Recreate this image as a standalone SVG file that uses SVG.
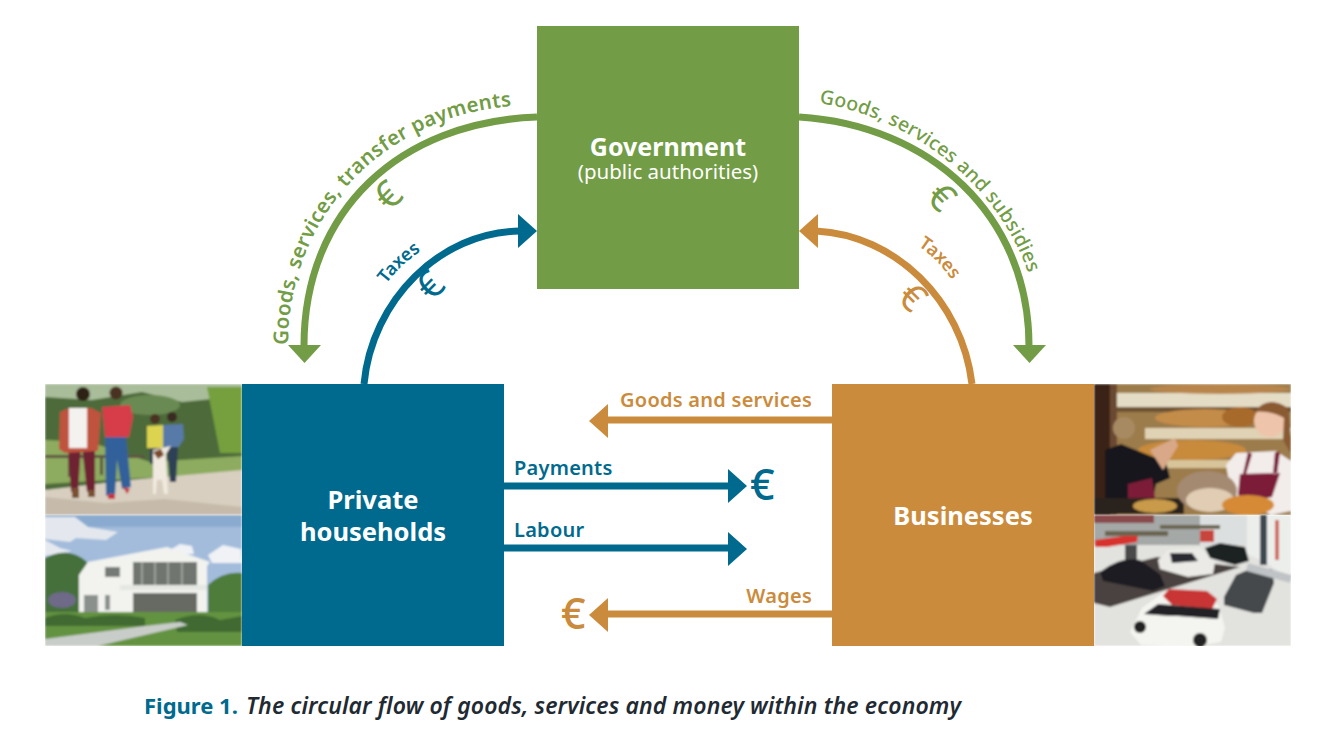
<svg xmlns="http://www.w3.org/2000/svg" width="1322" height="730" viewBox="0 0 1322 730">
<style>
text{font-family:"Noto Sans","Liberation Sans",sans-serif;font-weight:600}
.g{fill:#729c45}.b{fill:#006a8e}.o{fill:#cb8b3c}
.w{fill:#fff;font-weight:700;font-size:25.5px;text-anchor:middle}
.lb{font-size:20px;letter-spacing:.25px}
.arc{font-size:20.5px;letter-spacing:.3px}
.arc2{font-size:19.5px;letter-spacing:.2px;font-weight:500}
.eu{font-size:43px;font-weight:500}
.er{font-size:38px;font-weight:400;text-anchor:middle}
.ln{fill:none;stroke-width:7}
</style>
<defs>
<filter id="bl" x="-5%" y="-5%" width="110%" height="110%"><feGaussianBlur stdDeviation="1.3"/></filter>
<clipPath id="c1"><rect x="45" y="384" width="197" height="131"/></clipPath>
<clipPath id="c2"><rect x="45" y="515" width="197" height="131"/></clipPath>
<clipPath id="c3"><rect x="1094" y="384" width="197" height="131"/></clipPath>
<clipPath id="c4"><rect x="1094" y="515" width="197" height="131"/></clipPath>
<path id="p1" d="M288 345C288 215 385 115 514 106L560 104"/>
<path id="p2" d="M819 103C915 118 1005 190 1032 285L1040 330"/>
<path id="p3" d="M386 284C398 268 412 256 432 244"/>
<path id="p4" d="M918 246C934 256 948 272 962 296"/>
</defs>
<rect width="1322" height="730" fill="#fff"/>
<g id="photo-family" clip-path="url(#c1)"><g filter="url(#bl)">
<rect x="45" y="384" width="197" height="131" fill="#4d6a3a"/>
<path d="M45 384h197v12l-60 6-40-10-50 8-47-3z" fill="#a9bd9a"/>
<ellipse cx="150" cy="405" rx="30" ry="10" fill="#6a8a52"/>
<path d="M207 387h35v66h-22z" fill="#74a03e"/>
<path d="M45 440l45 2 60 20 92-6v20l-100 2-97 6z" fill="#8dac5e"/>
<path d="M45 455h100v3H45z" fill="#5f5444"/><path d="M68 455h3v22h-3zM100 455h3v20h-3z" fill="#5f5444"/>
<path d="M45 515V490L130 480 242 470V515Z" fill="#d8cfc0"/>
<path d="M45 497l60 6 60-4 77 8v8H45z" fill="#c6bbaa"/>
<path d="M68 447h13l-3 45h-7zM82 447h13l0 45h-8z" fill="#6e2130"/>
<path d="M60 412l9-4 22 0 10 5-3 38-33 2-6-4z" fill="#c0523c"/>
<path d="M69 408h18v40h-18z" fill="#f4f2ee"/>
<circle cx="83" cy="394" r="7" fill="#2f2118"/>
<path d="M72 488h7v10h-7zM88 490h7v7h-7z" fill="#7a5030"/>
<path d="M102 407l28-2 3 12-4 20h-24z" fill="#d63c48"/>
<circle cx="116" cy="393" r="6.500" fill="#4a3022"/>
<path d="M105 437h21l5 50-9 2-5-30-2 37h-9z" fill="#33609a"/>
<path d="M108 494h7v5h-7zM123 487l7 2-3 5z" fill="#c8323c"/>
<path d="M147 426l16-1v23h-16z" fill="#dcd351"/>
<circle cx="155" cy="419" r="5" fill="#4a3020"/>
<path d="M163 425l20-1 1 15-6 9h-15z" fill="#587aa8"/>
<circle cx="172" cy="417" r="5" fill="#3a2a20"/>
<path d="M150 448h10v16h-10zM167 447h11l-2 35h-6z" fill="#2e3f55"/>
<path d="M153 450l18-4-5 8 2 40h-4l-2-14-5 0-1 14h-3v-28z" fill="#efe9df"/>
<path d="M153 452l8-3 3 6-6 4z" fill="#7a4a2c"/>
</g></g>
<g id="photo-house" clip-path="url(#c2)"><g filter="url(#bl)">
<rect x="45" y="515" width="197" height="131" fill="#a3bcdb"/>
<rect x="45" y="515" width="197" height="12" fill="#8baacf"/>
<path d="M45 517h30l13 10 30 5-12 8-30-2-6 4-25-3z" fill="#e4e8ee"/>
<path d="M45 540l15 8 12 3-27 5z" fill="#e6eaf0"/>
<path d="M170 550l10-6 12 2 2 8-20 0zM208 555l15-10 18 4 1 14-30 0z" fill="#f0f2f5"/>
<path d="M45 558q24-12 42 4v50H45z" fill="#45703a"/>
<path d="M208 585q15-14 34-12v45h-34z" fill="#4e7c3a"/>
<path d="M79 575l9-13 79-15 43 15-3 4v51H79z" fill="#f2f3ef"/>
<rect x="133" y="562" width="64" height="23" fill="#6f7570"/><path d="M142 562v23M155 562v23M168 562v23M182 562v23" stroke="#aab0a8" stroke-width="1.500"/>
<rect x="120" y="585" width="87" height="5" fill="#e4e7e2"/>
<rect x="133" y="593" width="64" height="23" fill="#666a64"/>
<rect x="105" y="567" width="15" height="10" fill="#747a76"/>
<rect x="84" y="595" width="14" height="19" fill="#8a908c"/><rect x="105" y="595" width="5" height="15" fill="#8a908c"/>
<rect x="45" y="612" width="197" height="34" fill="#64933f"/>
<path d="M45 618q20-8 40 0 30-6 60 0v8H45zM175 620q25-10 45 0l22-4v16h-65z" fill="#3f6a30"/>
<ellipse cx="62" cy="600" rx="14" ry="8" fill="#6e6a88"/>
<path d="M45 646v-7l100-13 35-4 8 3-30 7-60 14z" fill="#c9cdc9"/>
</g></g>
<g id="photo-bakery" clip-path="url(#c3)"><g filter="url(#bl)">
<rect x="1094" y="384" width="197" height="131" fill="#9c7c4c"/>
<rect x="1094" y="384" width="16" height="131" fill="#3a2418"/><rect x="1110" y="384" width="7" height="131" fill="#6a4a30"/>
<rect x="1117" y="393" width="174" height="14" fill="#e4dcc4"/><rect x="1145" y="428" width="146" height="11" fill="#e0d2b4"/><rect x="1145" y="460" width="85" height="8" fill="#d8c49a"/>
<rect x="1117" y="407" width="174" height="5" fill="#6e5232"/>
<ellipse cx="1205" cy="418" rx="50" ry="9" fill="#c48c4a"/><ellipse cx="1240" cy="417" rx="18" ry="10" fill="#a86a2c"/>
<ellipse cx="1192" cy="450" rx="54" ry="10" fill="#c88a3a"/>
<ellipse cx="1220" cy="389" rx="70" ry="5" fill="#b8864e"/>
<path d="M1105 450l16-6 45 18 4 16-14 6-4 20-47 0z" fill="#17171a"/><path d="M1128 484l24-6 4 26h-28z" fill="#7c1d38"/>
<path d="M1150 450l25-12 3 8-15 24z" fill="#d8a888"/>
<circle cx="1124" cy="428" r="11" fill="#a88a62"/>
<path d="M1094 498h90v16h-90z" fill="#2a221c"/>
<ellipse cx="1155" cy="506" rx="22" ry="7" fill="#c89a48"/>
<path d="M1226 465l10-12 40-2 15 10v50l-20 4-40-22z" fill="#f2ecea"/><path d="M1240 474l40-1-8 24-20 4-14-6zM1248 452l-5 22h3l6-20zM1275 452l-2 22 4 0 3-22z" fill="#7c1d38"/>
<circle cx="1270" cy="421" r="16" fill="#eec4aa"/><path d="M1254 412q14-18 34-4l3 30v16l-8-14 1-22q-14-8-30-6z" fill="#8a5a32"/>
<ellipse cx="1207" cy="491" rx="30" ry="20" fill="#a58a72"/><ellipse cx="1210" cy="500" rx="24" ry="12" fill="#e0cdb4"/>
<ellipse cx="1248" cy="505" rx="26" ry="10" fill="#d68a34"/>
</g></g>
<g id="photo-cars" clip-path="url(#c4)"><g filter="url(#bl)">
<rect x="1094" y="515" width="197" height="131" fill="#e2e2de"/>
<rect x="1094" y="515" width="170" height="30" fill="#a4a8a6"/>
<path d="M1094 515h60v8h-60z" fill="#8a4a4c"/>
<path d="M1200 515h47v30l-47 0z" fill="#dcdfe0"/>
<path d="M1247 515h44v65l-26-18-18-8z" fill="#eceeec"/>
<rect x="1260" y="515" width="7" height="50" fill="#3d4a50"/>
<path d="M1275 520h4v40h-4z" fill="#d06a5c"/>
<path d="M1094 573l63-16 83 10-130 40-16-4z" fill="#4a4340"/>
<path d="M1095 540l43-6-1 8-30 5-12 0z" fill="#d8302e"/><path d="M1105 531h63v5h-63zM1160 525h60v4h-60z" fill="#6a6350"/>
<path d="M1125 545h12v18h-12z" fill="#4a4a48"/>
<rect x="1200" y="530" width="14" height="12" fill="#c8443c"/>
<path d="M1100 572q20-16 40-12l20 14 5 12-12 5-50-10z" fill="#1d1e20"/>
<path d="M1158 560l10-10 32-2 15 14-2 12-25 3-28-8z" fill="#ebeae6"/>
<path d="M1170 553h22l6 8-26 2z" fill="#2a2c30"/>
<path d="M1205 548l15-5 25 4 4 14-14 4-25-7z" fill="#1e2024"/>
<path d="M1224 597l12-22 14-6 22 0 2 14-12 30-8 0-30-8z" fill="#45484b"/>
<path d="M1130 632l12-24 22-16 40 0 15 14 6 22-4 14-30 5-50-2z" fill="#f4f4f0"/>
<path d="M1163 596l6-7 38 2 10 8-5 10-40-4z" fill="#c93535"/>
<path d="M1144 614l14-10 62 5-2 10-40-3-8 0z" fill="#202226"/>
<circle cx="1140" cy="627" r="6" fill="#222"/><circle cx="1200" cy="640" r="7" fill="#222"/>
<path d="M1247 567l44 12" stroke="#bfc3c6" stroke-width="8"/>
</g></g>
<g id="connectors">
<path class="ln" stroke="#729c45" d="M537 117C400 122 304 210 304 346"/>
<path class="g" d="M288 345h33l-16.500 18z"/>
<path class="ln" stroke="#006a8e" d="M364 384C372 300 440 232 520 231"/>
<path class="b" d="M518 214l19 17-19 17z"/>
<path class="ln" stroke="#729c45" d="M799 117C930 125 1029 215 1029 346"/>
<path class="g" d="M1013 345h33l-16.500 18z"/>
<path class="ln" stroke="#cb8b3c" d="M972 384C962 300 895 235 816 231"/>
<path class="o" d="M818 214l-19 17 19 17z"/>
<path class="ln" stroke="#cb8b3c" d="M833 420H607"/>
<path class="o" d="M608 404l-19 17 19 17z"/>
<path class="ln" stroke="#006a8e" d="M504 486H730"/>
<path class="b" d="M728 469l19 17-19 17z"/>
<path class="ln" stroke="#006a8e" d="M504 548H730"/>
<path class="b" d="M728 532l19 17-19 17z"/>
<path class="ln" stroke="#cb8b3c" d="M833 614H607"/>
<path class="o" d="M608 598l-19 17 19 17z"/>
</g>
<g id="government"><rect class="g" x="537" y="26" width="262" height="263"/>
<text class="w" x="668" y="156" style="font-size:25px">Government</text>
<text x="668" y="179" text-anchor="middle" fill="#fff" font-size="20.500" style="font-weight:400">(public authorities)</text></g>
<g id="households"><rect class="b" x="242" y="384" width="262" height="262"/>
<text class="w" x="373" y="509">Private</text><text class="w" x="373" y="541">households</text></g>
<g id="businesses"><rect class="o" x="832" y="384" width="262" height="262"/>
<text class="w" x="963" y="525">Businesses</text></g>
<g id="labels">
<text class="arc g"><textPath href="#p1">Goods, services, transfer payments</textPath></text>
<text class="arc2 g"><textPath href="#p2">Goods, services and subsidies</textPath></text>
<text class="b" font-size="18"><textPath href="#p3">Taxes</textPath></text>
<text class="o" font-size="18"><textPath href="#p4">Taxes</textPath></text>
<text class="lb o" x="812" y="407" text-anchor="end">Goods and services</text>
<text class="lb b" x="514" y="475">Payments</text>
<text class="lb b" x="514" y="537">Labour</text>
<text class="lb o" x="812" y="603" text-anchor="end">Wages</text>
<text class="eu b" x="750" y="500">€</text>
<text class="eu o" x="561" y="629">€</text>
<text class="er g" transform="translate(388 195) rotate(-45)" y="13.500">€</text>
<text class="er b" transform="translate(430 285) rotate(-45)" y="13.500">€</text>
<text class="er g" transform="translate(942 197) rotate(45)" y="13.500">€</text>
<text class="er o" transform="translate(913 297) rotate(45)" y="13.500">€</text>
</g>
<text x="144" y="714" font-size="22" fill="#006a8e" style="font-weight:700">Figure 1.</text>
<text x="246" y="714" font-size="23" fill="#1f2a33" font-style="italic" letter-spacing=".12">The circular flow of goods, services and money within the economy</text>
</svg>
